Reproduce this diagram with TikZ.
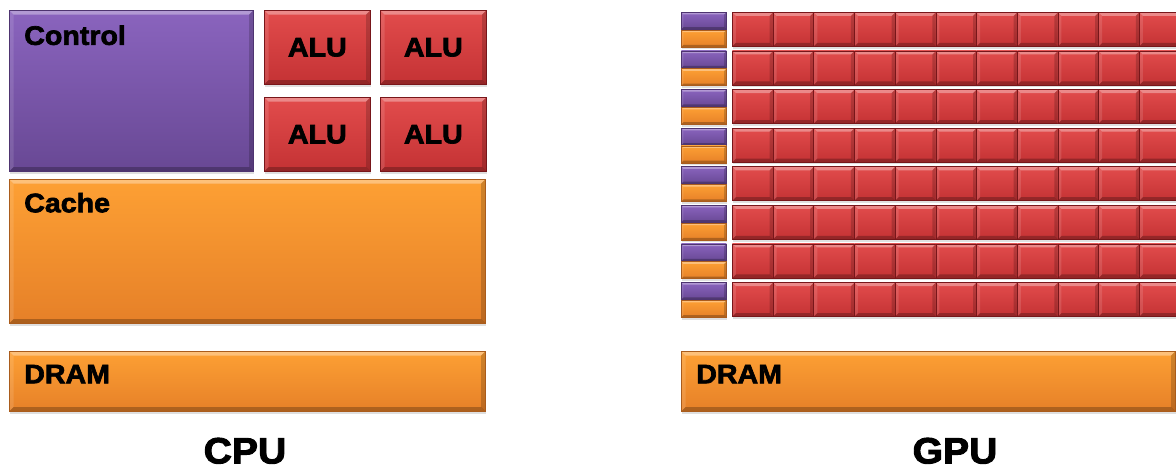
\documentclass[tikz,border=0pt]{standalone}
\usepackage{fontspec}
\usepackage{xcolor}
\usepackage{tikz}
\usetikzlibrary{shadows}

\newfontfamily\heavy[FakeBold=2.6,FakeStretch=1.07]{Liberation Sans}

\definecolor{ctrltop}{RGB}{138,100,190}
\definecolor{ctrlbot}{RGB}{104,72,148}
\definecolor{ctrledge}{RGB}{78,52,112}
\definecolor{memtop}{RGB}{253,160,52}
\definecolor{membot}{RGB}{230,128,40}
\definecolor{memedge}{RGB}{170,92,28}
\definecolor{alutop}{RGB}{226,76,76}
\definecolor{alubot}{RGB}{196,50,52}
\definecolor{aluedge}{RGB}{120,22,26}

\tikzset{
  bevel/.style={path picture={
    \fill[white,opacity=0.35] (path picture bounding box.north west) -- (path picture bounding box.north east)
      -- ([shift={(-#1,-#1)}]path picture bounding box.north east) -- ([shift={(#1,-#1)}]path picture bounding box.north west) -- cycle;
    \fill[white,opacity=0.12] (path picture bounding box.north west) -- (path picture bounding box.south west)
      -- ([shift={(#1,#1)}]path picture bounding box.south west) -- ([shift={(#1,-#1)}]path picture bounding box.north west) -- cycle;
    \fill[black,opacity=0.18] (path picture bounding box.north east) -- (path picture bounding box.south east)
      -- ([shift={(-#1,#1)}]path picture bounding box.south east) -- ([shift={(-#1,-#1)}]path picture bounding box.north east) -- cycle;
    \fill[black,opacity=0.25] (path picture bounding box.south west) -- (path picture bounding box.south east)
      -- ([shift={(-#1,#1)}]path picture bounding box.south east) -- ([shift={(#1,#1)}]path picture bounding box.south west) -- cycle;
  }},
  bevel/.default=3pt,
  blk/.style={rectangle, anchor=north west, inner sep=0pt, draw=#1edge, line width=0.5pt,
    top color=#1top, bottom color=#1bot,
    drop shadow={opacity=0.25, shadow xshift=0.6pt, shadow yshift=-1.6pt}},
  lbl/.style={anchor=north west, inner sep=0pt, font=\heavy\bfseries\fontsize{19}{22}\selectfont},
  alubox/.style={blk=alu, bevel, minimum width=2.65cm, minimum height=1.85cm, font=\heavy\bfseries\fontsize{19}{22}\selectfont},
  title/.style={inner sep=0pt, font=\heavy\bfseries\fontsize{26}{30}\selectfont}
}

\begin{document}
\begin{tikzpicture}[y=-1cm]
    \useasboundingbox (0,0) rectangle (29.4,11.725);
    \clip (0,0) rectangle (29.4,11.725);

    % CPU: Control
    \node[blk=ctrl, bevel, minimum width=6.1cm, minimum height=4.025cm] (ctrl) at (0.225,0.25) {};
    \node[lbl] (ctrltxt) at ([shift={(0.375cm,-0.38cm)}]ctrl.north west) {Control};

    % CPU: ALUs
    \node[alubox] (alu1) at (6.6,0.25) {ALU};
    \node[alubox] (alu2) at (9.5,0.25) {ALU};
    \node[alubox] (alu3) at (6.6,2.425) {ALU};
    \node[alubox] (alu4) at (9.5,2.425) {ALU};

    % CPU: Cache
    \node[blk=mem, bevel, minimum width=11.9cm, minimum height=3.6cm] (cache) at (0.225,4.475) {};
    \node[lbl] (cachetxt) at ([shift={(0.375cm,-0.34cm)}]cache.north west) {Cache};

    % CPU: DRAM
    \node[blk=mem, bevel, minimum width=11.9cm, minimum height=1.5cm] (cpudram) at (0.225,8.775) {};
    \node[lbl] (cpudramtxt) at ([shift={(0.375cm,-0.34cm)}]cpudram.north west) {DRAM};

    \node[title] (cpu) at (6.125,11.27) {CPU};

    % GPU: rows of control, cache and ALUs
    \foreach \r in {0,...,7} {
        \pgfmathsetmacro{\ry}{0.3+0.965*\r}
        \node[blk=ctrl, bevel=1.5pt, minimum width=1.125cm, minimum height=0.425cm] (gctrl-\r) at (17.025,\ry) {};
        \node[blk=mem, bevel=1.5pt, minimum width=1.125cm, minimum height=0.425cm] (gcache-\r) at (gctrl-\r.south west) {};
        \foreach \k in {0,...,10} {
            \node[blk=alu, bevel=2.5pt, minimum width=1.0175cm, minimum height=0.85cm] (galu-\r-\k) at (18.3+1.0175*\k,\ry) {};
        }
    }

    % GPU: DRAM
    \node[blk=mem, bevel, minimum width=12.35cm, minimum height=1.5cm] (gpudram) at (17.025,8.775) {};
    \node[lbl] (gpudramtxt) at ([shift={(0.375cm,-0.34cm)}]gpudram.north west) {DRAM};

    \node[title] (gpu) at (23.875,11.27) {GPU};
\end{tikzpicture}
\end{document}
